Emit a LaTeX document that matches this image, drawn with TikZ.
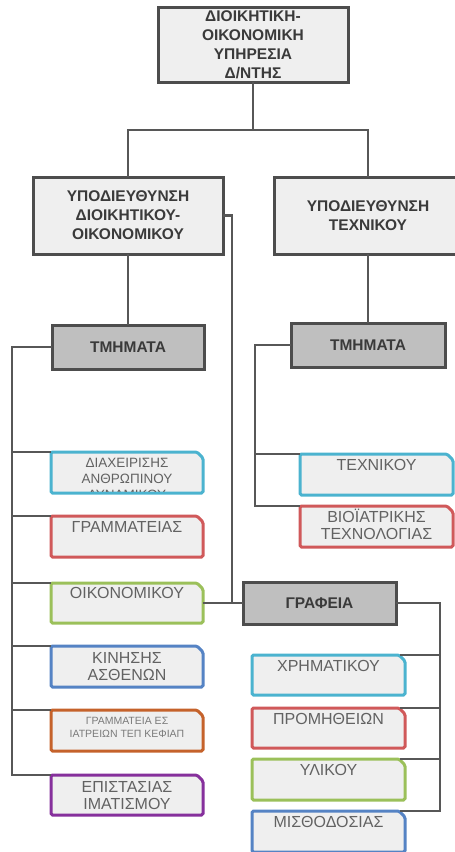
\documentclass[tikz,border=0pt]{standalone}
\usepackage{fontspec}
\setmainfont{Liberation Sans}
\usetikzlibrary{calc}

\definecolor{linegray}{HTML}{575757}
\definecolor{framegray}{HTML}{4D4D4D}
\definecolor{boxfill}{HTML}{EFEFEF}
\definecolor{darkfill}{HTML}{BFBFBF}
\definecolor{cAqua}{HTML}{4BB3CF}
\definecolor{cRed}{HTML}{D0595A}
\definecolor{cGreen}{HTML}{9BC05A}
\definecolor{cBlue}{HTML}{5583C4}
\definecolor{cOrange}{HTML}{C5622B}
\definecolor{cPurple}{HTML}{86309C}
\definecolor{txtgray}{HTML}{626262}
\definecolor{hdrtxt}{HTML}{3A3A3A}

% outline of a department box: rectangle with its upper right corner cut off
\newcommand\deptframe[2]{%
  \draw[deptedge, draw=#2]
    (#1.north west) -- ($(#1.north east)+(-6,0)$)
    -- ($(#1.north east)+(0,6)$) -- (#1.south east)
    -- (#1.south west) -- cycle;}

\begin{document}
\begin{tikzpicture}[x=1pt,y=-1pt,
  conn/.style={draw=linegray, line width=2.6pt},
  hdr/.style={draw=framegray, line width=3pt, fill=boxfill, anchor=north west,
    inner sep=0pt, outer sep=0pt, text=hdrtxt, align=center,
    font=\bfseries\fontsize{15.5}{19}\selectfont},
  dark/.style={hdr, fill=darkfill},
  unit/.style={rectangle, anchor=north west, inner sep=0pt, outer sep=0pt},
  deptedge/.style={fill=boxfill, line width=3pt, rounded corners=1.5pt},
  lbl/.style={anchor=north, inner sep=0pt, text=txtgray, align=center,
    font=\fontsize{16}{17.3}\selectfont},
]
\useasboundingbox (0,0) rectangle (455,852);
\clip (0,0) rectangle (455,852);

% directorate and sub-directorates
\node[hdr, minimum width=190, minimum height=75] (top) at (158,7)
  {ΔΙΟΙΚΗΤΙΚΗ-\\ΟΙΚΟΝΟΜΙΚΗ\\ΥΠΗΡΕΣΙΑ\\Δ/ΝΤΗΣ};
\node[hdr, minimum width=190, minimum height=77] (subL) at (33,177)
  {ΥΠΟΔΙΕΥΘΥΝΣΗ\\ΔΙΟΙΚΗΤΙΚΟΥ-\\ΟΙΚΟΝΟΜΙΚΟΥ};
\node[hdr, minimum width=188, minimum height=77] (subR) at (274,177)
  {ΥΠΟΔΙΕΥΘΥΝΣΗ\\ΤΕΧΝΙΚΟΥ};

% group headers
\node[dark, minimum width=152, minimum height=44] (tmhL) at (52,325) {ΤΜΗΜΑΤΑ};
\node[dark, minimum width=154, minimum height=44] (tmhR) at (291,323) {ΤΜΗΜΑΤΑ};
\node[dark, minimum width=153, minimum height=42] (graf) at (243,582) {ΓΡΑΦΕΙΑ};

% departments, left column
\node[unit, minimum width=152, minimum height=41] (diax) at (51,452) {};
\node[unit, minimum width=152, minimum height=41] (gram) at (51,516) {};
\node[unit, minimum width=152, minimum height=40] (oik)  at (51,583) {};
\node[unit, minimum width=152, minimum height=41] (kin)  at (51,646) {};
\node[unit, minimum width=152, minimum height=41] (ges)  at (51,710) {};
\node[unit, minimum width=152, minimum height=40] (epi)  at (51,775) {};
% departments, right column
\node[unit, minimum width=153, minimum height=41] (tech) at (300,454) {};
\node[unit, minimum width=153, minimum height=41] (bio)  at (300,506) {};
% offices
\node[unit, minimum width=153, minimum height=40] (xrim) at (252,655) {};
\node[unit, minimum width=153, minimum height=40] (prom) at (252,708) {};
\node[unit, minimum width=153, minimum height=41] (yli)  at (252,759) {};
\node[unit, minimum width=153, minimum height=41] (mis)  at (252,811) {};

\deptframe{diax}{cAqua}
\deptframe{gram}{cRed}
\deptframe{oik}{cGreen}
\deptframe{kin}{cBlue}
\deptframe{ges}{cOrange}
\deptframe{epi}{cPurple}
\deptframe{tech}{cAqua}
\deptframe{bio}{cRed}
\deptframe{xrim}{cAqua}
\deptframe{prom}{cRed}
\deptframe{yli}{cGreen}
\deptframe{mis}{cBlue}

% box labels
\begin{scope}
  \clip (diax.north west) rectangle ($(diax.south east)+(0,-1.5)$);
  \node[lbl, font=\fontsize{13.5}{16}\selectfont] (diaxT) at ($(diax.north)+(0,6)$)
    {ΔΙΑΧΕΙΡΙΣΗΣ\\ΑΝΘΡΩΠΙΝΟΥ\\ΔΥΝΑΜΙΚΟΥ};
\end{scope}
\node[lbl] (gramT) at ($(gram.north)+(0,5.5)$) {ΓΡΑΜΜΑΤΕΙΑΣ};
\node[lbl] (oikT)  at ($(oik.north)+(0,4.5)$) {ΟΙΚΟΝΟΜΙΚΟΥ};
\node[lbl] (kinT)  at ($(kin.north)+(0,6.3)$) {ΚΙΝΗΣΗΣ\\ΑΣΘΕΝΩΝ};
\node[lbl, font=\fontsize{10.5}{13}\selectfont, text=txtgray!85] (gesT)
  at ($(ges.north)+(0,7.2)$) {ΓΡΑΜΜΑΤΕΙΑ ΕΣ\\ΙΑΤΡΕΙΩΝ ΤΕΠ ΚΕΦΙΑΠ};
\node[lbl] (epiT)  at ($(epi.north)+(0,6.3)$) {ΕΠΙΣΤΑΣΙΑΣ\\ΙΜΑΤΙΣΜΟΥ};
\node[lbl] (techT) at ($(tech.north)+(0,5.5)$) {ΤΕΧΝΙΚΟΥ};
\node[lbl] (bioT)  at ($(bio.north)+(0,3)$) {ΒΙΟΪΑΤΡΙΚΗΣ\\ΤΕΧΝΟΛΟΓΙΑΣ};
\node[lbl] (xrimT) at ($(xrim.north)+(0,5.5)$) {ΧΡΗΜΑΤΙΚΟΥ};
\node[lbl] (promT) at ($(prom.north)+(0,5.5)$) {ΠΡΟΜΗΘΕΙΩΝ};
\node[lbl] (yliT)  at ($(yli.north)+(0,5.5)$) {ΥΛΙΚΟΥ};
\node[lbl] (misT)  at ($(mis.north)+(0,5.5)$) {ΜΙΣΘΟΔΟΣΙΑΣ};

% junction points of the connector tree
\coordinate (j1)   at (253,130);
\coordinate (jg)   at (232,603);
\coordinate (busL) at (12,347);
\coordinate (busR) at (255,345);
\coordinate (busG) at (440,603);

\draw[conn] (top.south) -- (j1);
\draw[conn] (subL.north) |- (j1) -| (subR.north);
\draw[conn] (subL.south) -- (tmhL.north);
\draw[conn] (subR.south) -- (tmhR.north);
\draw[conn] (subL.east) -| (jg);
\draw[conn] (oik.east) -- (oik.east -| graf.west);

\draw[conn] (tmhL.west) -- (busL) |- (epi.north west);
\foreach \b in {diax,gram,oik,kin,ges}
  \draw[conn] (\b.north west) -- (\b.north west -| busL);

\draw[conn] (tmhR.west) -- (busR) |- (bio.north west);
\draw[conn] (tech.north west) -- (tech.north west -| busR);

\draw[conn] (graf.east) -- (busG) |- ($(mis.north east)+(-5,0)$);
\foreach \b in {xrim,prom,yli}
  \draw[conn] ($(\b.north east)+(-5,0)$) -- (\b.north east -| busG);
\end{tikzpicture}
\end{document}
